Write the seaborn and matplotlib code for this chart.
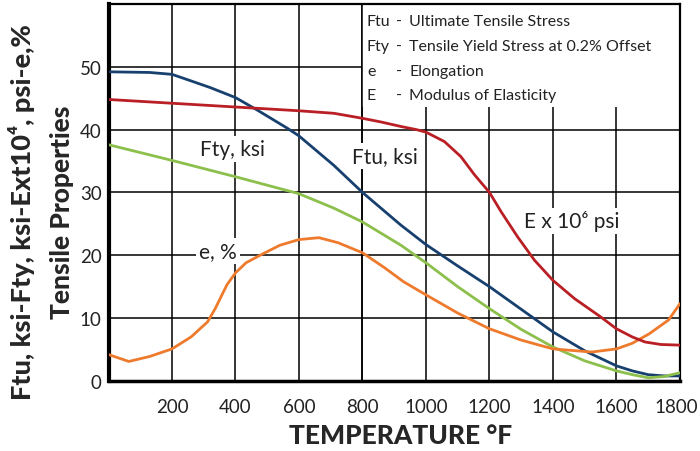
import matplotlib
matplotlib.use("Agg")
import matplotlib.pyplot as plt
import matplotlib.transforms as mtransforms
import seaborn as sns
import pandas as pd
from matplotlib.patches import Rectangle

# ---- data ----
ftu_x = [5, 129, 200, 246, 320, 400, 469, 564, 600, 710, 800, 921, 1000, 1100, 1200, 1300, 1400, 1500,
         1600, 1650, 1700, 1750, 1800]
ftu_y = [49.2, 49.1, 48.8, 48.0, 46.7, 45.1, 43.1, 40.2, 39.0, 34.3, 30.0, 24.8, 21.7, 18.3, 15.0, 11.4,
         7.8, 4.8, 2.4, 1.6, 1.0, 0.8, 0.8]

fty_x = [0, 200, 400, 600, 710, 800, 921, 1000, 1100, 1200, 1300, 1400, 1500, 1600, 1650, 1700, 1750, 1800]
fty_y = [37.6, 35.1, 32.5, 29.8, 27.5, 25.3, 21.6, 18.8, 15.0, 11.5, 8.2, 5.4, 3.2, 1.6, 1.0, 0.5, 0.7, 1.3]

e_x = [0, 64, 130, 200, 260, 312, 336, 373, 400, 433, 481, 540, 600, 663, 723, 800, 870, 929, 1000,
       1100, 1200, 1300, 1400, 1522, 1600, 1650, 1703, 1764, 1800]
e_y = [4.2, 3.1, 3.9, 5.1, 7.0, 9.4, 11.5, 15.3, 17.2, 18.8, 20.1, 21.6, 22.5, 22.8, 22.0, 20.4, 18.0,
       15.8, 13.7, 10.8, 8.3, 6.5, 5.1, 4.6, 5.1, 6.0, 7.5, 9.7, 12.3]

E_x = [0, 200, 400, 600, 710, 800, 860, 921, 970, 1000, 1058, 1110, 1153, 1200, 1237, 1289, 1342, 1400,
       1468, 1550, 1600, 1650, 1690, 1740, 1800]
E_y = [44.8, 44.2, 43.6, 43.0, 42.6, 41.8, 41.2, 40.5, 40.0, 39.6, 38.1, 35.7, 32.8, 30.0, 26.9, 22.9, 19.2,
       16.0, 13.1, 10.2, 8.3, 7.0, 6.2, 5.8, 5.7]

x_ticks = [200, 400, 600, 800, 1000, 1200, 1400, 1600, 1800]
y_ticks = [0, 10, 20, 30, 40, 50]

legend_lines = [("Ftu", "Ultimate Tensile Stress"),
                ("Fty", "Tensile Yield Stress at 0.2% Offset"),
                ("e", "Elongation"),
                ("E", "Modulus of Elasticity")]

colors = {"Ftu": "#17406f", "Fty": "#8cbf4b", "e": "#ee7b2d", "E": "#b91f24"}

# ---- plotting ----
sns.set_style("white")
plt.rcParams["font.family"] = ["Lato", "DejaVu Sans"]

fig = plt.figure(figsize=(7, 4.52), dpi=100)
ax = fig.add_axes([0.155, 0.155, 0.8164, 0.834])

series = [("Ftu", ftu_x, ftu_y), ("Fty", fty_x, fty_y), ("e", e_x, e_y), ("E", E_x, E_y)]
for name, xs, ys in series:
    df = pd.DataFrame({"T": xs, "v": ys})
    sns.lineplot(data=df, x="T", y="v", ax=ax, color=colors[name], lw=2.0,
                 sort=False, estimator=None, zorder=3)

ax.set_xlim(0, 1800)
ax.set_ylim(0, 60)
ax.set_xticks(x_ticks)
ax.set_yticks(y_ticks)
ax.set_xticklabels([str(v) for v in x_ticks])
ax.set_yticklabels([str(v) for v in y_ticks])
ax.tick_params(axis="both", length=0, labelsize=13.5, colors="#222222")
ax.tick_params(axis="x", pad=12)
ax.tick_params(axis="y", pad=5)
# nudge the last x label so it stays inside the figure
last = ax.get_xticklabels()[-1]
last.set_transform(last.get_transform() + mtransforms.ScaledTranslation(-4 / 100, 0, fig.dpi_scale_trans))
ax.set_xlabel("")
ax.set_ylabel("")
ax.grid(True, color="black", lw=1.1)
ax.set_axisbelow(True)
for s in ax.spines.values():
    s.set_color("black")
    s.set_linewidth(1.6)
ax.spines["left"].set_linewidth(3)
ax.spines["bottom"].set_linewidth(2.5)

# legend box (white area over grid)
ax.add_patch(Rectangle((800, 43.6), 1000, 16.4, facecolor="white", edgecolor="none", zorder=1))
ax.axvline(800, color="black", lw=1.1, zorder=1.1)
ys_leg = [57.3, 53.3, 49.4, 45.5]
for (ab, desc), yy in zip(legend_lines, ys_leg):
    ax.text(814, yy, ab, fontsize=11.5, color="#222222", va="center", ha="left", zorder=4)
    ax.text(907, yy, "-", fontsize=11.5, color="#222222", va="center", ha="left", zorder=4)
    ax.text(948, yy, desc, fontsize=11.5, color="#222222", va="center", ha="left", zorder=4)

# curve labels
bb = dict(facecolor="white", edgecolor="none", pad=2)
ax.text(389, 36.9, "Fty, ksi", fontsize=15, ha="center", va="center", color="#222222", bbox=bb, zorder=1.5)
ax.text(871, 35.8, "Ftu, ksi", fontsize=15, ha="center", va="center", color="#222222", bbox=bb, zorder=1.5)
ax.text(1460, 25.5, "E x 10\u2076 psi", fontsize=15, ha="center", va="center", color="#222222", bbox=bb, zorder=1.5)
ax.text(345, 20.7, "e, %", fontsize=15, ha="center", va="center", color="#222222", bbox=bb, zorder=1.5)

# axis titles
fig.text(0.572, 0.035, "TEMPERATURE \u00b0F", fontsize=19, fontweight="black", ha="center", va="center")
fig.text(0.031, 0.531, "Ftu, ksi-Fty, ksi-Ext10\u2074, psi-e,%", fontsize=19.5, fontweight="black",
         rotation=90, ha="center", va="center")
fig.text(0.089, 0.531, "Tensile Properties", fontsize=19, fontweight="black",
         rotation=90, ha="center", va="center")

fig.savefig("out.png", dpi=100)
